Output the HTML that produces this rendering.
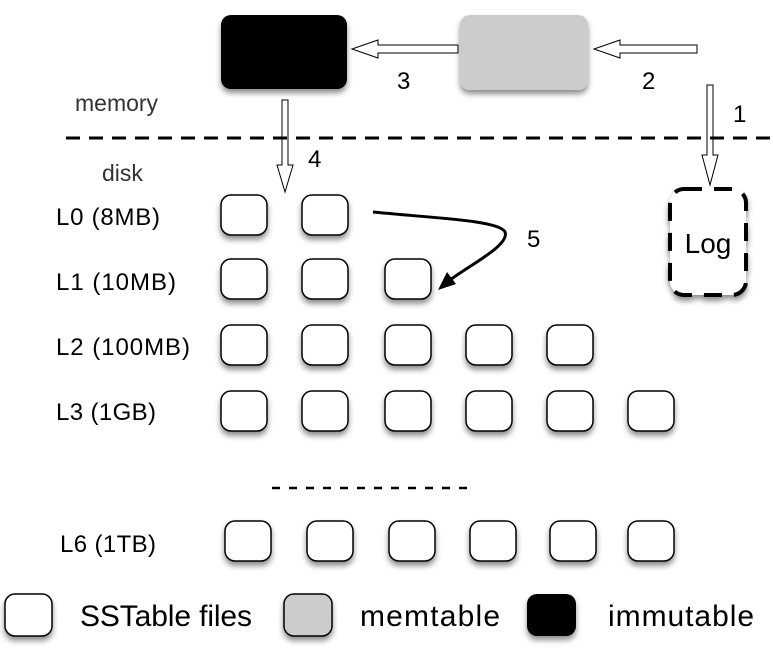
<!DOCTYPE html>
<html><head><meta charset="utf-8"><style>
html,body{margin:0;padding:0;background:#fff;}
svg{display:block;font-family:"Liberation Sans",sans-serif;}
</style></head><body>
<svg width="773" height="651" viewBox="0 0 773 651" xmlns="http://www.w3.org/2000/svg">
<defs>
<filter id="sh" x="-20%" y="-20%" width="150%" height="160%"><feDropShadow dx="0" dy="4" stdDeviation="3" flood-color="#000" flood-opacity="0.45"/></filter>
<g id="sq"><rect x="0" y="0" width="46" height="40" rx="10" fill="#fff" stroke="#000" stroke-width="1.5" filter="url(#sh)"/></g>
</defs>
<rect x="221" y="15" width="126" height="74" rx="10" fill="#000" filter="url(#sh)"/>
<rect x="460" y="15" width="128" height="75" rx="10" fill="#ccc" filter="url(#sh)"/>
<polygon points="458,45 378,45 378,40 352,49 378,58 378,53 458,53" fill="#fff" stroke="#000" stroke-width="1"/>
<polygon points="697,45 620,45 620,40 594,49 620,58 620,53 697,53" fill="#fff" stroke="#000" stroke-width="1"/>
<polygon points="707,85 713,85 713,155 718,155 710,185 702,155 707,155" fill="#fff" stroke="#000" stroke-width="1"/>
<polygon points="282,100 288,100 288,165 293,165 285,192 277,165 282,165" fill="#fff" stroke="#000" stroke-width="1"/>
<line x1="66" y1="138" x2="773" y2="138" stroke="#000" stroke-width="3" stroke-dasharray="14,9"/>
<g font-size="24" fill="#000">
<text x="397" y="89">3</text><text x="642" y="89">2</text><text x="733" y="122">1</text><text x="308" y="167">4</text><text x="527" y="247">5</text>
<text x="75" y="111" fill="#333" font-size="23">memory</text><text x="102" y="181" fill="#333" font-size="23">disk</text>
<text x="56" y="225" textLength="104">L0 (8MB)</text><text x="56" y="290" textLength="120">L1 (10MB)</text><text x="56" y="355" textLength="134">L2 (100MB)</text><text x="56" y="420" textLength="100">L3 (1GB)</text><text x="60" y="552" textLength="96">L6 (1TB)</text>
</g>
<rect x="670" y="189" width="76" height="106" rx="14" fill="#fff" stroke="#000" stroke-width="4" stroke-dasharray="18,12" filter="url(#sh)"/>
<text x="708" y="253" font-size="28" text-anchor="middle">Log</text>
<use href="#sq" x="221" y="195"/><use href="#sq" x="302" y="195"/>
<use href="#sq" x="221" y="259"/><use href="#sq" x="302" y="259"/><use href="#sq" x="385" y="259"/>
<use href="#sq" x="221" y="325"/><use href="#sq" x="302" y="325"/><use href="#sq" x="385" y="325"/><use href="#sq" x="466" y="325"/><use href="#sq" x="547" y="325"/>
<use href="#sq" x="221" y="391"/><use href="#sq" x="302" y="391"/><use href="#sq" x="385" y="391"/><use href="#sq" x="466" y="391"/><use href="#sq" x="547" y="391"/><use href="#sq" x="628" y="391"/>
<use href="#sq" x="225" y="521"/><use href="#sq" x="307" y="521"/><use href="#sq" x="389" y="521"/><use href="#sq" x="470" y="521"/><use href="#sq" x="550" y="521"/><use href="#sq" x="628" y="521"/>
<path d="M373,212 C430,218 500,220 505,232 C510,245 470,265 450,280" fill="none" stroke="#000" stroke-width="3"/>
<polygon points="438,290 447,272 456,284" fill="#000"/>
<line x1="272" y1="488" x2="472" y2="488" stroke="#000" stroke-width="2.5" stroke-dasharray="8,9"/>
<rect x="5" y="594" width="47" height="42" rx="10" fill="#fff" stroke="#000" stroke-width="1.5" filter="url(#sh)"/>
<rect x="284" y="594" width="48" height="42" rx="10" fill="#ccc" stroke="#000" stroke-width="1.5" filter="url(#sh)"/>
<rect x="527" y="594" width="49" height="42" rx="10" fill="#000" filter="url(#sh)"/>
<g font-size="30" fill="#000">
<text x="80" y="626" textLength="172">SSTable files</text><text x="360" y="626" textLength="140">memtable</text><text x="608" y="626" textLength="146">immutable</text>
</g>
</svg>
</body></html>
